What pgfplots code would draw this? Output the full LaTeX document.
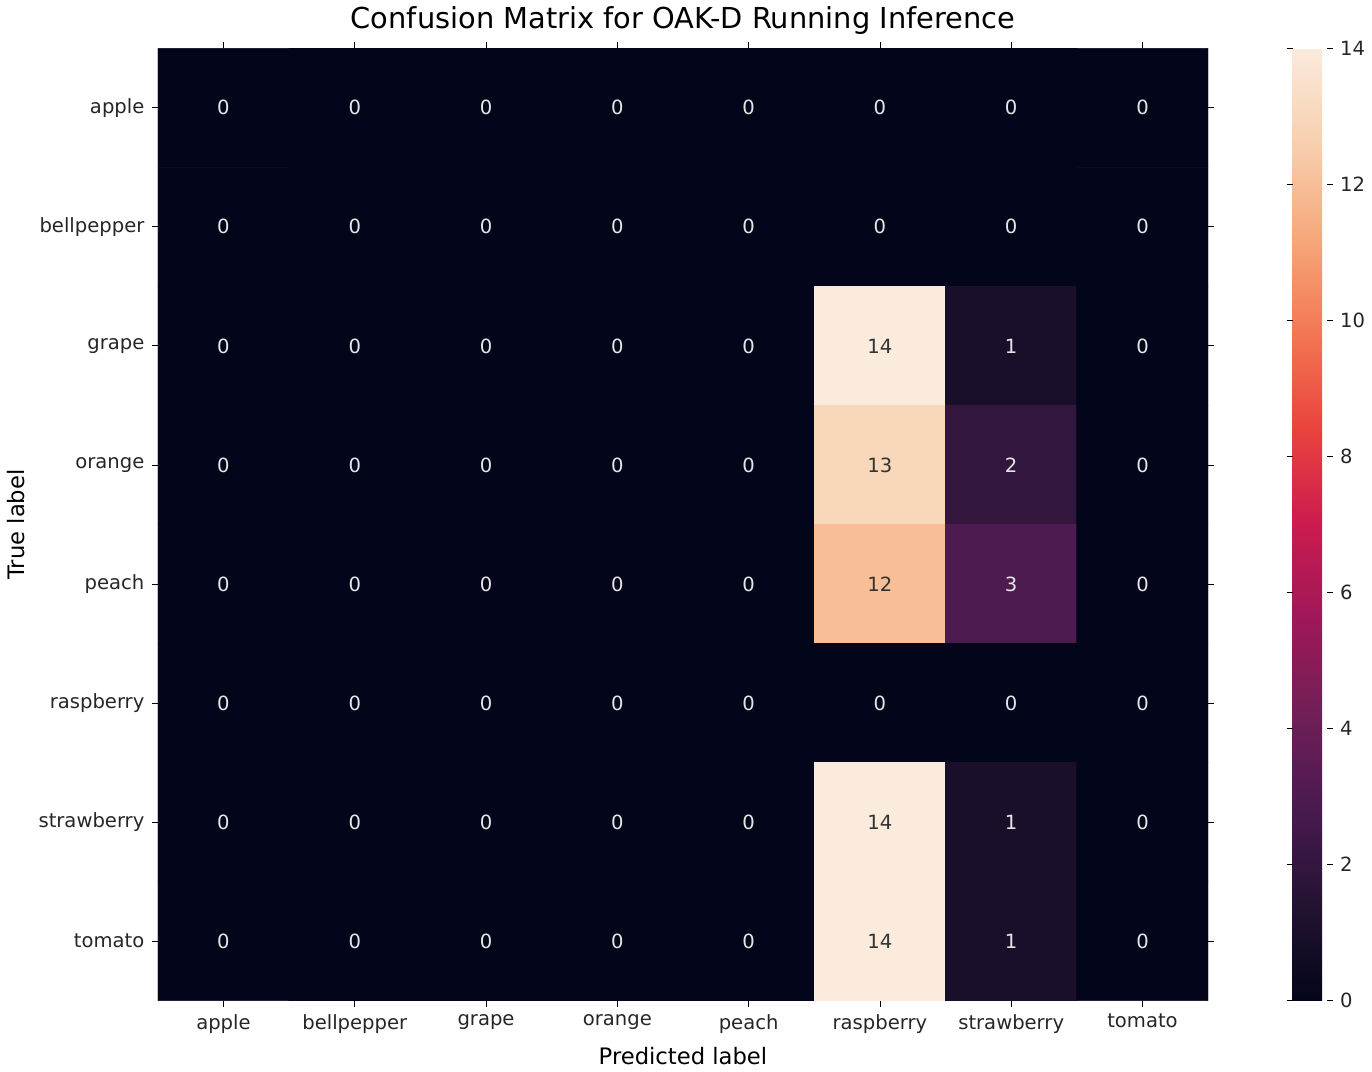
\documentclass[border=0pt]{standalone}
\usepackage{pgfplots}
\pgfplotsset{compat=1.18}
\usepackage{fontspec}
\setmainfont{DejaVu Sans}
\begin{document}
\begin{tikzpicture}
\begin{axis}[
  scale only axis, width=509.5pt, height=462pt,
  xmin=-0.5, xmax=7.5, ymin=-0.5, ymax=7.5, y dir=reverse,
  xtick={0,...,7}, ytick={0,...,7},
  xticklabels={apple,bellpepper,grape,orange,peach,raspberry,strawberry,tomato},
  yticklabels={apple,bellpepper,grape,orange,peach,raspberry,strawberry,tomato},
  ticklabel style={font=\fontsize{9.5}{11}\selectfont, text=black!85},
  tick align=outside, major tick length=3pt, tick style={black, thin},
  axis line style={draw=none},
  xlabel={Predicted label}, ylabel={True label},
  label style={font=\fontsize{11}{13}\selectfont},
  title={Confusion Matrix for OAK-D Running Inference},
  title style={font=\fontsize{14}{16}\selectfont, yshift=-3pt},
  colormap={rocket}{rgb255=(3,5,26) rgb255=(35,19,50) rgb255=(72,26,79) rgb255=(112,31,87) rgb255=(158,24,89) rgb255=(203,27,79) rgb255=(233,67,62) rgb255=(243,118,81) rgb255=(246,167,122) rgb255=(247,207,174) rgb255=(250,235,221)},
  point meta min=0, point meta max=14,
  colorbar,
  colorbar style={width=16.5pt, at={(parent axis.north east)}, anchor=north west, xshift=32.5pt,
    ytick={0,2,...,14}, axis line style={draw=none}, tick align=outside, major tick length=3pt,
    yticklabel style={font=\fontsize{9.5}{11}\selectfont, text=black!85},
    /pgf/number format/assume math mode=true},
  /pgf/number format/assume math mode=true,
]
\addplot[matrix plot*, mesh/cols=8, point meta=explicit, draw=none] table[meta=c] {
x y c
0 0 0
1 0 0
2 0 0
3 0 0
4 0 0
5 0 0
6 0 0
7 0 0
0 1 0
1 1 0
2 1 0
3 1 0
4 1 0
5 1 0
6 1 0
7 1 0
0 2 0
1 2 0
2 2 0
3 2 0
4 2 0
5 2 14
6 2 1
7 2 0
0 3 0
1 3 0
2 3 0
3 3 0
4 3 0
5 3 13
6 3 2
7 3 0
0 4 0
1 4 0
2 4 0
3 4 0
4 4 0
5 4 12
6 4 3
7 4 0
0 5 0
1 5 0
2 5 0
3 5 0
4 5 0
5 5 0
6 5 0
7 5 0
0 6 0
1 6 0
2 6 0
3 6 0
4 6 0
5 6 14
6 6 1
7 6 0
0 7 0
1 7 0
2 7 0
3 7 0
4 7 0
5 7 14
6 7 1
7 7 0
};
\addplot[only marks, mark=none, point meta=explicit symbolic,
  nodes near coords, nodes near coords align=center,
  every node near coord/.style={font=\fontsize{9.5}{11}\selectfont, text=black!10}] table[meta=c] {
x y c
0 0 0
1 0 0
2 0 0
3 0 0
4 0 0
5 0 0
6 0 0
7 0 0
0 1 0
1 1 0
2 1 0
3 1 0
4 1 0
5 1 0
6 1 0
7 1 0
0 2 0
1 2 0
2 2 0
3 2 0
4 2 0
6 2 1
7 2 0
0 3 0
1 3 0
2 3 0
3 3 0
4 3 0
6 3 2
7 3 0
0 4 0
1 4 0
2 4 0
3 4 0
4 4 0
6 4 3
7 4 0
0 5 0
1 5 0
2 5 0
3 5 0
4 5 0
5 5 0
6 5 0
7 5 0
0 6 0
1 6 0
2 6 0
3 6 0
4 6 0
6 6 1
7 6 0
0 7 0
1 7 0
2 7 0
3 7 0
4 7 0
6 7 1
7 7 0
};
\addplot[only marks, mark=none, point meta=explicit symbolic,
  nodes near coords, nodes near coords align=center,
  every node near coord/.style={font=\fontsize{9.5}{11}\selectfont, text=black!80}] table[meta=c] {
x y c
5 2 14
5 3 13
5 4 12
5 6 14
5 7 14
};
\end{axis}
\end{tikzpicture}
\end{document}
